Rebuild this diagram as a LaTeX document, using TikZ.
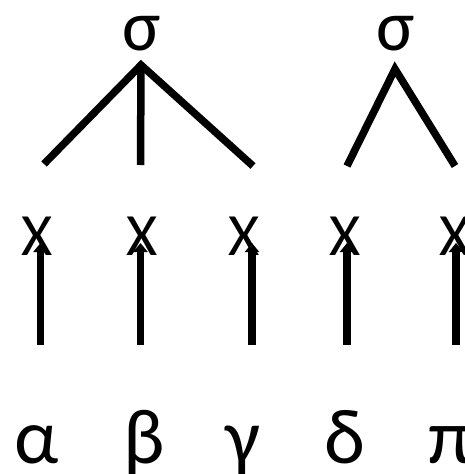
\documentclass[tikz,border=0pt]{standalone}
\usepackage{fontspec}
\setmainfont{Carlito}
\usetikzlibrary{arrows.meta}
\begin{document}
\begin{tikzpicture}[x=1pt,y=-1pt,
  edge/.style={line width=7.5pt},
  uparrow/.style={line width=7.5pt,-{Triangle[width=14pt,length=9pt]}},
  xlab/.style={inner sep=0pt,anchor=base,font=\fontsize{60}{66}\selectfont},
  slab/.style={inner sep=0pt,anchor=base,font=\fontsize{72}{80}\selectfont},
  glab/.style={inner sep=0pt,anchor=base,font=\fontsize{78}{90}\selectfont}]
\useasboundingbox (0,0) rectangle (464,474);
\clip (0,0) rectangle (464,474);
% labels
\node[slab] (s1) at (142,50) {σ};
\node[slab] (s2) at (396,50) {σ};
\node[xlab] (x1) at (37,255) {X};
\node[xlab] (x2) at (142,255) {X};
\node[xlab] (x3) at (244,255) {X};
\node[xlab] (x4) at (345,255) {X};
\node[xlab] (x5) at (455,255) {X};
\node[glab] (g1) at (37,463) {α};
\node[glab] (g2) at (144,463) {β};
\node[glab] (g3) at (243,463) {γ};
\node[glab] (g4) at (345,463) {δ};
\node[glab] (g5) at (450,463) {π};
% tree coordinates
\coordinate (a1) at (141,65);
\coordinate (a1l) at (44,164);
\coordinate (a1m) at (140.5,165);
\coordinate (a1r) at (253,166);
\coordinate (a2) at (395,69);
\coordinate (a2l) at (347,166);
\coordinate (a2r) at (455,166);
\draw[edge] (a1l) -- (a1) -- (a1r);
\draw[edge] (a1) -- (a1m);
\draw[edge] (a2l) -- (a2) -- (a2r);
% arrows
\foreach \i/\xx in {1/40.5,2/140.5,3/252,4/347,5/456}{
  \coordinate (b\i) at (\xx,345);
  \coordinate (t\i) at (\xx,243);
  \draw[uparrow] (b\i) -- (t\i);
}
\end{tikzpicture}
\end{document}
